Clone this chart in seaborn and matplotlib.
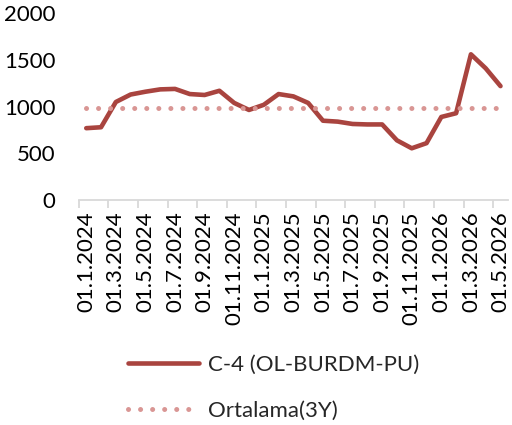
import numpy as np
import pandas as pd
import matplotlib
matplotlib.use('Agg')
import matplotlib.pyplot as plt
import seaborn as sns

# Monthly values, 01.1.2024 .. 01.5.2026
months = ['01.1.2024', '01.2.2024', '01.3.2024', '01.4.2024', '01.5.2024', '01.6.2024',
          '01.7.2024', '01.8.2024', '01.9.2024', '01.10.2024', '01.11.2024', '01.12.2024',
          '01.1.2025', '01.2.2025', '01.3.2025', '01.4.2025', '01.5.2025', '01.6.2025',
          '01.7.2025', '01.8.2025', '01.9.2025', '01.10.2025', '01.11.2025', '01.12.2025',
          '01.1.2026', '01.2.2026', '01.3.2026', '01.4.2026', '01.5.2026']
c4_values = [770, 780, 1050, 1130, 1160, 1185, 1190, 1135, 1125, 1170, 1040, 965,
             1020, 1135, 1110, 1040, 850, 840, 815, 810, 810, 640, 555, 610,
             890, 930, 1560, 1410, 1220]
avg_3y = 990

series_name = 'C-4 (OL-BURDM-PU)'
avg_name = 'Ortalama(3Y)'

df = pd.DataFrame({'pos': np.arange(len(months)), 'value': c4_values})
df['avg'] = avg_3y

sns.set_style('white')
plt.rcParams['font.family'] = ['Lato', 'DejaVu Sans']

fig = plt.figure(figsize=(5.12, 4.25), dpi=100)
ax = fig.add_axes([0.154, 0.529, 0.838, 0.44])

sns.lineplot(data=df, x='pos', y='value', ax=ax, color='#A9443F', lw=3.3,
             solid_capstyle='round', label=series_name, legend=False)
sns.lineplot(data=df, x='pos', y='avg', ax=ax, color='#D99694', lw=3.6,
             linestyle=(0, (0.01, 2.4)), dash_capstyle='round', label=avg_name, legend=False)

ax.set_xlim(-0.5, len(months) - 0.5)
ax.set_ylim(0, 2000)
ax.set_yticks([0, 500, 1000, 1500, 2000])
ax.set_xlabel('')
ax.set_ylabel('')

# labels on every second month, tick marks between categories
ax.set_xticks(np.arange(0, len(months), 2))
ax.set_xticklabels(months[::2], rotation=90)
ax.set_xticks(np.arange(-0.5, len(months) - 1, 2), minor=True)
ax.tick_params(axis='x', which='major', length=0, pad=8, labelsize=16, colors='black')
ax.tick_params(axis='x', which='minor', length=6, width=1.3, color='#D9D9D9', bottom=True)
ax.tick_params(axis='y', length=0, pad=17, labelsize=16, colors='black')

for s in ['top', 'right', 'left']:
    ax.spines[s].set_visible(False)
ax.spines['bottom'].set_color('#D9D9D9')
ax.spines['bottom'].set_linewidth(1.3)
ax.grid(False)

handles, labels = ax.get_legend_handles_labels()
fig.legend(handles, labels, loc='upper left', bbox_to_anchor=(0.25, 0.165),
           frameon=False, fontsize=16, handlelength=3.2, handletextpad=0.4,
           labelspacing=1.15, borderpad=0, borderaxespad=0)

fig.savefig('out.png', dpi=100)
